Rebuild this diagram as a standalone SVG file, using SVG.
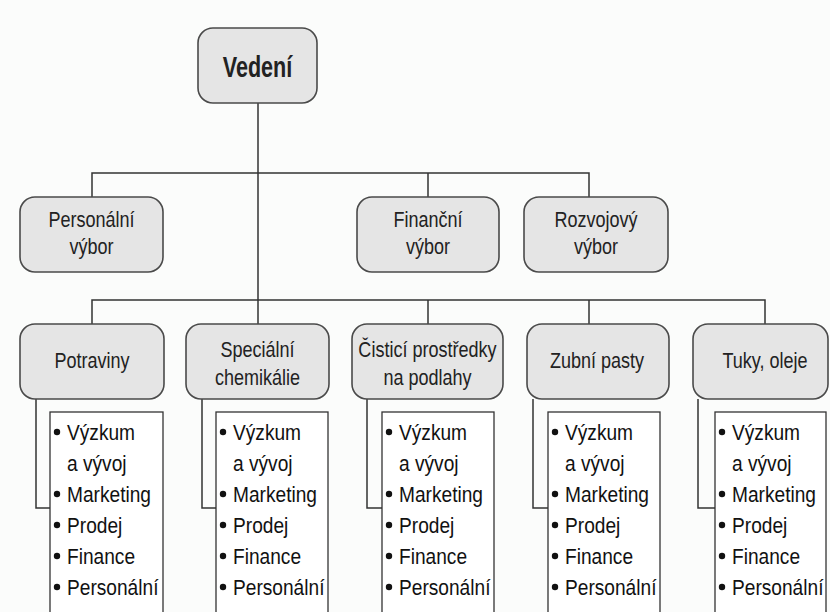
<svg xmlns="http://www.w3.org/2000/svg" width="830" height="612" viewBox="0 0 830 612">
<style>
.bg{fill:#fbfcfb}
.box{fill:#e5e5e5;stroke:#4a4a4a;stroke-width:1.6}
.lst{fill:#ffffff;stroke:#333;stroke-width:1.3}
.ln{fill:none;stroke:#333;stroke-width:1.5}
.lbl{font-family:"Liberation Sans",Arial,sans-serif;font-size:22px;fill:#222;text-anchor:middle}
.top{font-family:"Liberation Sans",Arial,sans-serif;font-size:30px;font-weight:bold;fill:#222;text-anchor:middle}
.it{font-family:"Liberation Sans",Arial,sans-serif;font-size:22px;fill:#111}
.dot{fill:#111}
</style>
<defs>
<g id="items">
<text class="it" x="0" y="440">Výzkum</text>
<text class="it" x="0" y="471">a vývoj</text>
<text class="it" x="0" y="502">Marketing</text>
<text class="it" x="0" y="533">Prodej</text>
<text class="it" x="0" y="564">Finance</text>
<text class="it" x="0" y="595">Personální</text>
</g>
<g id="dots">
<circle class="dot" cx="0" cy="432" r="3.2"/>
<circle class="dot" cx="0" cy="494" r="3.2"/>
<circle class="dot" cx="0" cy="525" r="3.2"/>
<circle class="dot" cx="0" cy="556" r="3.2"/>
<circle class="dot" cx="0" cy="587" r="3.2"/>
</g>
</defs>
<rect class="bg" x="0" y="0" width="830" height="612"/>

<g id="connectors">
<path class="ln" d="M258 103 V300"/>
<path class="ln" d="M92 197 V173 H589 V197 M428 173 V197"/>
<path class="ln" d="M92 324 V300 H765 V324 M258 300 V324 M428 300 V324 M589 300 V324"/>
<path class="ln" d="M36 399 V508 H50"/>
<path class="ln" d="M202 399 V508 H216"/>
<path class="ln" d="M367 399 V508 H382"/>
<path class="ln" d="M533 399 V508 H548"/>
<path class="ln" d="M698 399 V508 H715"/>
</g>

<g id="vedeni">
<rect class="box" x="198" y="28" width="119" height="75" rx="15"/>
<text class="top" transform="translate(257.5,77) scale(0.72,1)">Vedení</text>
</g>

<g id="personalni-vybor">
<rect class="box" x="20" y="197" width="143" height="75" rx="15"/>
<text class="lbl" transform="translate(91.5,227) scale(0.82,1)">Personální</text>
<text class="lbl" transform="translate(91.5,254) scale(0.82,1)">výbor</text>
</g>

<g id="financni-vybor">
<rect class="box" x="357" y="197" width="142" height="75" rx="15"/>
<text class="lbl" transform="translate(428,227) scale(0.82,1)">Finanční</text>
<text class="lbl" transform="translate(428,254) scale(0.82,1)">výbor</text>
</g>

<g id="rozvojovy-vybor">
<rect class="box" x="524" y="197" width="144" height="75" rx="15"/>
<text class="lbl" transform="translate(596,227) scale(0.82,1)">Rozvojový</text>
<text class="lbl" transform="translate(596,254) scale(0.82,1)">výbor</text>
</g>

<g id="potraviny">
<rect class="box" x="20" y="324" width="144" height="75" rx="15"/>
<text class="lbl" transform="translate(92,368) scale(0.82,1)">Potraviny</text>
<rect class="lst" x="50" y="412" width="113" height="210"/>
<use href="#dots" x="57"/>
<g transform="translate(67,0) scale(0.87,1)"><use href="#items"/></g>
</g>

<g id="specialni-chemikalie">
<rect class="box" x="186" y="324" width="143" height="75" rx="15"/>
<text class="lbl" transform="translate(257.5,357) scale(0.82,1)">Speciální</text>
<text class="lbl" transform="translate(257.5,385) scale(0.82,1)">chemikálie</text>
<rect class="lst" x="216" y="412" width="112" height="210"/>
<use href="#dots" x="223"/>
<g transform="translate(233,0) scale(0.87,1)"><use href="#items"/></g>
</g>

<g id="cistici-prostredky">
<rect class="box" x="352" y="324" width="151" height="75" rx="15"/>
<text class="lbl" transform="translate(427.5,357) scale(0.82,1)">Čisticí prostředky</text>
<text class="lbl" transform="translate(427.5,385) scale(0.82,1)">na podlahy</text>
<rect class="lst" x="382" y="412" width="112" height="210"/>
<use href="#dots" x="389"/>
<g transform="translate(399,0) scale(0.87,1)"><use href="#items"/></g>
</g>

<g id="zubni-pasty">
<rect class="box" x="527" y="324" width="142" height="75" rx="15"/>
<text class="lbl" transform="translate(597,368) scale(0.82,1)">Zubní pasty</text>
<rect class="lst" x="548" y="412" width="112" height="210"/>
<use href="#dots" x="555"/>
<g transform="translate(565,0) scale(0.87,1)"><use href="#items"/></g>
</g>

<g id="tuky-oleje">
<rect class="box" x="693" y="324" width="135" height="75" rx="15"/>
<text class="lbl" transform="translate(765,368) scale(0.82,1)">Tuky, oleje</text>
<rect class="lst" x="715" y="412" width="111" height="210"/>
<use href="#dots" x="722"/>
<g transform="translate(732,0) scale(0.87,1)"><use href="#items"/></g>
</g>
</svg>
